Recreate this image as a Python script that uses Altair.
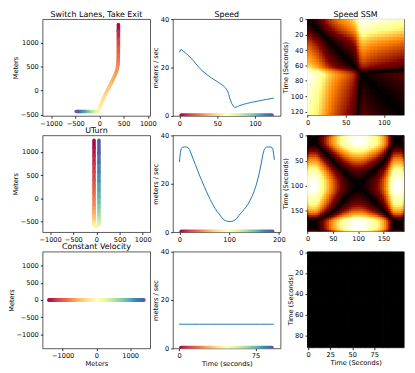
import altair as alt
import numpy as np
import pandas as pd

FONT = "DejaVu Sans"
SPECTRAL_STOPS = ["#9e0142", "#d53e4f", "#f46d43", "#fdae61", "#fee08b", "#ffffbf",
                  "#e6f598", "#abdda4", "#66c2a5", "#3288bd", "#5e4fa2"]
AFMHOT = ["#000000", "#800000", "#ff8000", "#ffff80", "#ffffff"]
LINE_BLUE = "#1f77b4"

# ---------------- Row 1: Switch Lanes, Take Exit ----------------
sw_traj_t = [0, 6, 12, 18, 22, 25, 28, 31, 34, 37, 40, 43, 46, 49, 52, 55, 58, 61, 64,
             70, 76, 82, 88, 94, 100, 106, 112, 118, 125]
sw_traj_x = [392, 392, 392, 392, 391, 389, 384, 368, 335, 290, 240, 192, 145, 100, 62, 30, 3, -20, -45,
             -85, -125, -165, -210, -250, -290, -335, -385, -430, -480]
sw_traj_y = [1370, 1230, 1070, 900, 760, 640, 540, 450, 350, 250, 150, 60, -30, -120, -210, -290, -360, -410, -432,
             -434, -434, -434, -434, -434, -434, -434, -434, -434, -434]
sw_speed_t = [0, 2, 5, 8, 11, 14, 18, 22, 26, 30, 34, 38, 42, 46, 50, 54, 58, 61, 63, 65, 67, 69,
              71, 73, 75, 77, 80, 85, 90, 95, 100, 105, 110, 115, 120, 125]
sw_speed_v = [26.3, 27.5, 26.8, 26.0, 25.2, 24.3, 23.0, 21.5, 20.0, 18.7, 17.7, 16.7, 15.8, 15.0, 14.2,
              13.4, 12.5, 11.6, 10.7, 9.3, 7.0, 5.3, 4.2, 3.6, 3.6, 3.9, 4.3, 4.8, 5.2, 5.6, 5.9, 6.2,
              6.5, 6.8, 7.1, 7.4]

# ---------------- Row 2: UTurn ----------------
ut_traj_t = [0, 5, 10, 15, 20, 25, 30, 35, 40, 45, 50, 55, 60, 65, 70, 75, 80, 84, 89, 95, 101, 106,
             112, 118, 124, 130, 136, 142, 148, 154, 160, 166, 172, 178, 184, 191]
ut_traj_x = [-51, -51, -51, -51, -51, -51, -51, -51, -51, -51, -51, -51, -51, -51, -51, -51, -51, -51,
             -35.5, 2, 39.5, 55, 55, 55, 55, 55, 55, 55, 55, 55, 55, 55, 55, 55, 55, 55]
ut_traj_y = [1243, 1080, 915, 740, 570, 405, 250, 110, -15, -125, -220, -305, -375, -435, -480, -505,
             -530, -544, -581.5, -597, -581.5, -544, -520, -480, -430, -365, -290, -200, -95, 30, 180,
             360, 560, 770, 980, 1243]
ut_speed_t = [0, 2, 4, 6, 10, 14, 17, 20, 24, 28, 32, 36, 41, 46, 50, 54, 58, 62, 67, 72, 76, 80, 85,
              90, 95, 100, 105, 110, 115, 120, 125, 130, 134, 138, 142, 146, 150, 154, 158, 162, 165,
              168, 171, 175, 180, 185, 188, 190, 191]
ut_speed_v = [29.0, 33.0, 34.6, 35.1, 35.2, 35.2, 35.0, 34.2, 32.3, 30.0, 28.0, 25.8, 23.2, 20.8, 18.9,
              17.0, 15.2, 13.5, 11.5, 9.7, 8.5, 7.5, 6.1, 5.0, 4.6, 4.4, 4.4, 4.8, 5.6, 7.0, 8.2, 9.4,
              10.4, 11.6, 13.2, 14.8, 16.8, 19.2, 22.2, 25.8, 29.0, 32.3, 34.4, 35.2, 35.2, 35.2, 34.2,
              31.5, 29.9]

# ---------------- Row 3: Constant Velocity ----------------
cv_traj_x = [-1460, 1460]
cv_traj_y = [0, 0]
cv_speed_t = [0, 10, 20, 30, 40, 50, 60, 70, 80, 90, 93]
cv_speed_v = [10, 10, 10, 10, 10, 10, 10, 10, 10, 10, 10]

row_titles = ["Switch Lanes, Take Exit", "UTurn", "Constant Velocity"]
col_titles = ["Speed", "Speed SSM"]

PANEL_W = 109
PANEL_H = 98
SSM_W = 98
SSM_H = 97

spectral_grad = alt.LinearGradient(
    gradient="linear",
    stops=[alt.GradientStop(offset=i / 10, color=c) for i, c in enumerate(SPECTRAL_STOPS)],
    x1=0, x2=1, y1=0, y2=0,
)


def ttl(text, offset):
    return alt.TitleParams(text=text, fontSize=8, font=FONT, fontWeight="normal",
                           offset=offset, anchor="middle", frame="group", color="#000")


def lin(domain, reverse=False):
    if reverse:
        return alt.Scale(domain=domain, nice=False, zero=False, reverse=True)
    return alt.Scale(domain=domain, nice=False, zero=False)


def traj_segments(t, x, y, T, xdom, ydom, xticks, yticks, xtitle, title):
    t = np.array(t, float)
    df = pd.DataFrame({
        "x": x[:-1], "y": y[:-1], "x2": x[1:], "y2": y[1:],
        "t": (t[:-1] + t[1:]) / 2,
    })
    ch = alt.Chart(df).mark_rule(strokeWidth=3.6, strokeCap="round", clip=True).encode(
        x=alt.X("x:Q", scale=lin(xdom), axis=alt.Axis(values=xticks, title=xtitle, format="d")),
        y=alt.Y("y:Q", scale=lin(ydom), axis=alt.Axis(values=yticks, title="Meters", format="d")),
        x2="x2:Q", y2="y2:Q",
        color=alt.Color("t:Q", scale=alt.Scale(scheme="spectral", domain=[0, T]), legend=None),
    ).properties(width=PANEL_W, height=PANEL_H)
    if title:
        ch = ch.properties(title=ttl(title, 0.5))
    return ch


def traj_straight(x, y, xdom, ydom, xticks, yticks, xtitle, title):
    df = pd.DataFrame({"x": [x[0]], "x2": [x[1]], "y": [y[0]]})
    ch = alt.Chart(df).mark_rect(fill=spectral_grad, height=4, cornerRadius=2, clip=True).encode(
        x=alt.X("x:Q", scale=lin(xdom), axis=alt.Axis(values=xticks, title=xtitle, format="d")),
        x2="x2:Q",
        y=alt.Y("y:Q", scale=lin(ydom), axis=alt.Axis(values=yticks, title="Meters", format="d")),
    ).properties(width=PANEL_W, height=PANEL_H)
    if title:
        ch = ch.properties(title=ttl(title, 0.5))
    return ch


def speed_panel(t, v, xdom, xticks, xtitle, title):
    df = pd.DataFrame({"t": t, "v": v})
    xs = alt.X("t:Q", scale=lin(xdom), axis=alt.Axis(values=xticks, title=xtitle))
    ys = alt.Y("v:Q", scale=lin([0, 40]), axis=alt.Axis(values=[0, 10, 20, 30, 40], title="meters / sec"))
    line = alt.Chart(df).mark_line(color=LINE_BLUE, strokeWidth=1, clip=True).encode(x=xs, y=ys)
    sdf = pd.DataFrame({"t": [t[0]], "t2": [t[-1]], "v": [0.3]})
    strip = alt.Chart(sdf).mark_rect(fill=spectral_grad, height=4, cornerRadius=2, clip=True).encode(
        x=alt.X("t:Q"), x2="t2:Q", y=alt.Y("v:Q"))
    ch = alt.layer(line, strip).properties(width=PANEL_W, height=PANEL_H)
    if title:
        ch = ch.properties(title=ttl(title, -2.9))
    return ch


def ssm_panel(t, v, xdom, ydom, xticks, yticks, xtitle, title):
    t = np.array(t, float)
    v = np.array(v, float)
    mids = (t[:-1] + t[1:]) / 2
    xedges = np.concatenate([[xdom[0]], mids, [xdom[1]]])
    yedges = np.concatenate([[ydom[0]], mids, [ydom[1]]])
    rows = []
    for i in range(len(t)):
        for j in range(len(t)):
            rows.append((xedges[j], xedges[j + 1], yedges[i], yedges[i + 1], abs(v[i] - v[j])))
    df = pd.DataFrame(rows, columns=["x", "x2", "y", "y2", "d"])
    dmax = float(df["d"].max())
    if dmax <= 0:
        dmax = 1.0
    cscale = alt.Scale(domain=[0, dmax * 0.25, dmax * 0.5, dmax * 0.75, dmax], range=AFMHOT,
                       interpolate="rgb")
    ch = alt.Chart(df).mark_rect(strokeWidth=1.1, clip=True).encode(
        x=alt.X("x:Q", scale=lin(xdom), axis=alt.Axis(values=xticks, title=xtitle)),
        x2="x2:Q",
        y=alt.Y("y:Q", scale=lin(ydom, reverse=True), axis=alt.Axis(values=yticks, title="Time (Seconds)")),
        y2="y2:Q",
        color=alt.Color("d:Q", scale=cscale, legend=None),
        stroke=alt.Stroke("d:Q", scale=cscale, legend=None),
    ).properties(width=SSM_W, height=SSM_H)
    if title:
        ch = ch.properties(title=ttl(title, -2.9))
    return ch


def spacer(w):
    df = pd.DataFrame({"s": [0]})
    return alt.Chart(df).mark_point(opacity=0).encode(
        x=alt.X("s:Q", axis=None), y=alt.Y("s:Q", axis=None)
    ).properties(width=w, height=PANEL_H, view=alt.ViewBackground(strokeOpacity=0))


c11 = traj_segments(sw_traj_t, sw_traj_x, sw_traj_y, 125, [-1175, 1050], [-524, 1482],
                    [-1000, -500, 0, 500, 1000], [-500, 0, 500, 1000], None, row_titles[0])
c12 = speed_panel(sw_speed_t, sw_speed_v, [-8.6, 133.9], [0, 50, 100], None, col_titles[0])
c13 = ssm_panel(sw_speed_t, sw_speed_v, [-0.5, 126.5], [-0.5, 124.5], [0, 50, 100],
                [0, 20, 40, 60, 80, 100, 120], None, col_titles[1])

c21 = traj_segments(ut_traj_t, ut_traj_x, ut_traj_y, 191, [-1162, 1162], [-725, 1350],
                    [-1000, -500, 0, 500, 1000], [-500, 0, 500, 1000], None, row_titles[1])
c22 = speed_panel(ut_speed_t, ut_speed_v, [-13, 203.4], [0, 50, 100, 150, 200], None, None)
c23 = ssm_panel(ut_speed_t, ut_speed_v, [-0.5, 190.5], [-0.5, 190.5], [0, 50, 100, 150],
                [0, 50, 100, 150], None, None)

c31 = traj_straight(cv_traj_x, cv_traj_y, [-1595, 1595], [-1418, 1418],
                    [-1000, 0, 1000], [-1000, -500, 0, 500, 1000], "Meters", row_titles[2])
c32 = speed_panel(cv_speed_t, cv_speed_v, [-6, 99.7], [0, 25, 50, 75], "Time (seconds)", None)
c33 = ssm_panel(cv_speed_t, cv_speed_v, [-1.0, 108.7], [-0.5, 91.9], [0, 25, 50, 75],
                [0, 20, 40, 60, 80], "Time (Seconds)", None)

panels = [c11, spacer(22.7), c12, spacer(27), c13,
          c21, spacer(22.7), c22, spacer(27), c23,
          c31, spacer(22.7), c32, spacer(27), c33]

chart = alt.concat(
    *panels, columns=5, spacing={"row": 19.7, "column": 0}, bounds="flush", align="each"
).resolve_scale(
    x="independent", y="independent", color="independent", stroke="independent"
).properties(
    padding={"left": 0, "top": 0, "right": 2, "bottom": 2}
).configure(
    font=FONT, background="white"
).configure_axis(
    grid=False, domain=False, tickColor="#000", tickSize=2.3, tickWidth=0.8,
    labelFont=FONT, labelFontSize=6.7, labelColor="#000", labelPadding=2,
    titleFont=FONT, titleFontSize=6.7, titleFontWeight="normal", titleColor="#000",
    titlePadding=1.5, labelFlush=False, labelOverlap=False,
).configure_view(
    stroke="#333", strokeWidth=0.8
)

chart.save("out.html", embed_options={"renderer": "svg", "actions": False})
